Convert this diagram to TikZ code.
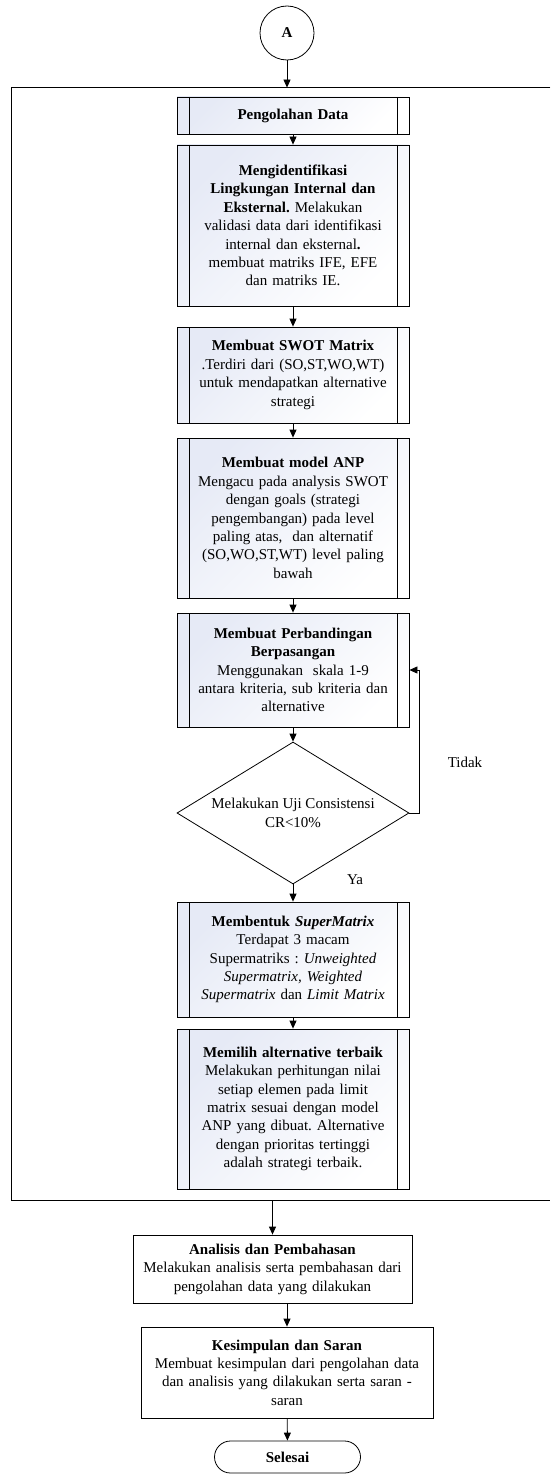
\documentclass[tikz,border=0pt]{standalone}
\usepackage{fontspec}
\setmainfont{Liberation Serif}
\usetikzlibrary{shapes.geometric,arrows.meta}
\definecolor{boxtint}{RGB}{230,234,246}
\frenchspacing

\begin{document}
\begin{tikzpicture}[x=1pt,y=-1pt,line width=.8pt,
    font=\fontsize{15}{18.4}\selectfont,
    >={Triangle[length=8pt,width=7pt]},
    subproc/.style={draw,align=center,inner sep=0pt,minimum width=232pt,text width=216pt,
        top color=boxtint,bottom color=white,shading angle=45,
        path picture={
            \draw ([xshift=12pt]path picture bounding box.north west) -- ([xshift=12pt]path picture bounding box.south west);
            \draw ([xshift=-12pt]path picture bounding box.north east) -- ([xshift=-12pt]path picture bounding box.south east);}},
    plainbox/.style={draw,align=center,inner sep=0pt,fill=white}]
    \useasboundingbox (0,0) rectangle (550,1474);

    % start
    \node [circle,draw,minimum size=54pt,inner sep=0pt] (A) at (287,33) {\textbf{A}};

    % frame of the data processing part
    \node [minimum width=538pt,minimum height=1112pt,inner sep=0pt] (frame) at (281,644) {};
    \draw (frame.north east) -- (frame.north west) -- (frame.south west) -- (frame.south east);

    \node [subproc,minimum height=37pt] (olah) at (293,115.5) {\textbf{Pengolahan Data}};
    \node [subproc,minimum height=161pt] (ident) at (293,225.5) {\textbf{Mengidentifikasi}\\
        \textbf{Lingkungan Internal dan}\\
        \textbf{Eksternal.} Melakukan\\
        validasi data dari identifikasi\\
        internal dan eksternal\textbf{.}\\
        membuat matriks IFE, EFE\\
        dan matriks IE.};
    \node [subproc,minimum height=96pt] (swot) at (293,375) {\textbf{Membuat SWOT Matrix}\\
        .Terdiri dari (SO,ST,WO,WT)\\
        untuk mendapatkan alternative\\
        strategi};
    \node [subproc,minimum height=160pt] (anp) at (293,518) {\textbf{Membuat model ANP}\\
        Mengacu pada analysis SWOT\\
        dengan goals (strategi\\
        pengembangan) pada level\\
        paling atas,\ \ dan alternatif\\
        (SO,WO,ST,WT) level paling\\
        bawah};
    \node [subproc,minimum height=114pt] (banding) at (293,670) {\textbf{Membuat Perbandingan}\\
        \textbf{Berpasangan}\\
        Menggunakan\ \ skala 1-9\\
        antara kriteria, sub kriteria dan\\
        alternative};

    % consistency check
    \node [diamond,draw,aspect=1.63,inner sep=-2pt,minimum width=232pt,minimum height=142pt,align=center]
        (uji) at (293,813) {Melakukan Uji Consistensi\\CR<10\%};

    \node [subproc,minimum height=115pt] (super) at (293,959.5) {\textbf{Membentuk \textit{SuperMatrix}}\\
        Terdapat 3 macam\\
        Supermatriks : \textit{Unweighted}\\
        \textit{Supermatrix, Weighted}\\
        \textit{Supermatrix} dan \textit{Limit Matrix}};
    \node [subproc,minimum height=160pt] (pilih) at (293,1109) {\textbf{Memilih alternative terbaik}\\
        Melakukan perhitungan nilai\\
        setiap elemen pada limit\\
        matrix sesuai dengan model\\
        ANP yang dibuat. Alternative\\
        dengan prioritas tertinggi\\
        adalah strategi terbaik.};

    \node [plainbox,minimum width=279pt,text width=275pt,minimum height=68pt] (analisis) at (272.5,1269) {\textbf{Analisis dan Pembahasan}\\
        Melakukan analisis serta pembahasan dari\\
        pengolahan data yang dilakukan};
    \node [plainbox,minimum width=292pt,text width=288pt,minimum height=91pt] (simpul) at (287,1372.5) {\textbf{Kesimpulan dan Saran}\\
        Membuat kesimpulan dari pengolahan data\\
        dan analisis yang dilakukan serta saran -\\
        saran};

    % end
    \node [draw,rounded corners=16pt,minimum width=146pt,minimum height=32pt,inner sep=0pt] (selesai) at (287.5,1457) {\textbf{Selesai}};

    \draw [->] (A) -- (A |- frame.north);
    \draw [->] (olah) -- (ident);
    \draw [->] (ident) -- (swot);
    \draw [->] (swot) -- (anp);
    \draw [->] (anp) -- (banding);
    \draw [->] (banding) -- (uji);
    \draw [->] (uji) -- (super);
    \draw [->] (super) -- (pilih);
    \draw [->] (uji.east) -- ++(10,0) |- (banding.east);
    \draw [->] (analisis |- frame.south) -- (analisis);
    \draw [->] (simpul |- analisis.south) -- (simpul);
    \draw [->] (simpul) -- (selesai);

    \node (tidak) at (465,762) {Tidak};
    \node (ya) at (355,880) {Ya};
\end{tikzpicture}
\end{document}
